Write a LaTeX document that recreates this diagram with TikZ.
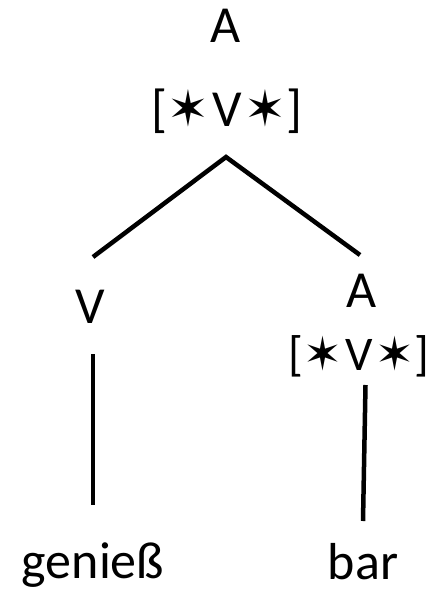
\documentclass[tikz,border=0pt]{standalone}
\usepackage{fontspec}
\setmainfont{Carlito}
\newfontfamily\starfont{DejaVu Sans}
\newcommand\vstar{{\starfont\fontsize{50}{60}\selectfont ✶}}
\newcommand\vfeat{[\vstar\hspace{3pt}V\hspace{3pt}\vstar]}
\begin{document}
\begin{tikzpicture}[x=1pt, y=-1pt,
    lbl/.style={inner sep=0pt, anchor=base, font=\fontsize{52}{60}\selectfont},
    edge/.style={line width=4.5pt, black}]
    \useasboundingbox (0,0) rectangle (435,591);
       \node[lbl] (t1) at (226,43) {A};
       \node[lbl] (f1) at (227,126) {\vfeat};
       \node[lbl] (v1) at (90,323) {V};
       \node[lbl] (a2) at (362,307) {A};
       \node[lbl, scale=0.93, transform shape] (f2) at (359,370) {\vfeat};
       \node[lbl] (w1) at (93,578) {genieß};
       \node[lbl] (w2) at (363,579) {bar};

       \draw[edge] ([xshift=3pt, yshift=66pt]v1.base) -- ([xshift=-1pt, yshift=-31pt]f1.base)
           -- ([xshift=-2pt, yshift=52pt]a2.base);
       \draw[edge] ([xshift=3pt, yshift=-31pt]v1.base) -- ([yshift=73pt]w1.base);
       \draw[edge] ([xshift=6.5pt, yshift=-15pt]f2.base) -- ([yshift=58pt]w2.base);
    \end{tikzpicture}
\end{document}
